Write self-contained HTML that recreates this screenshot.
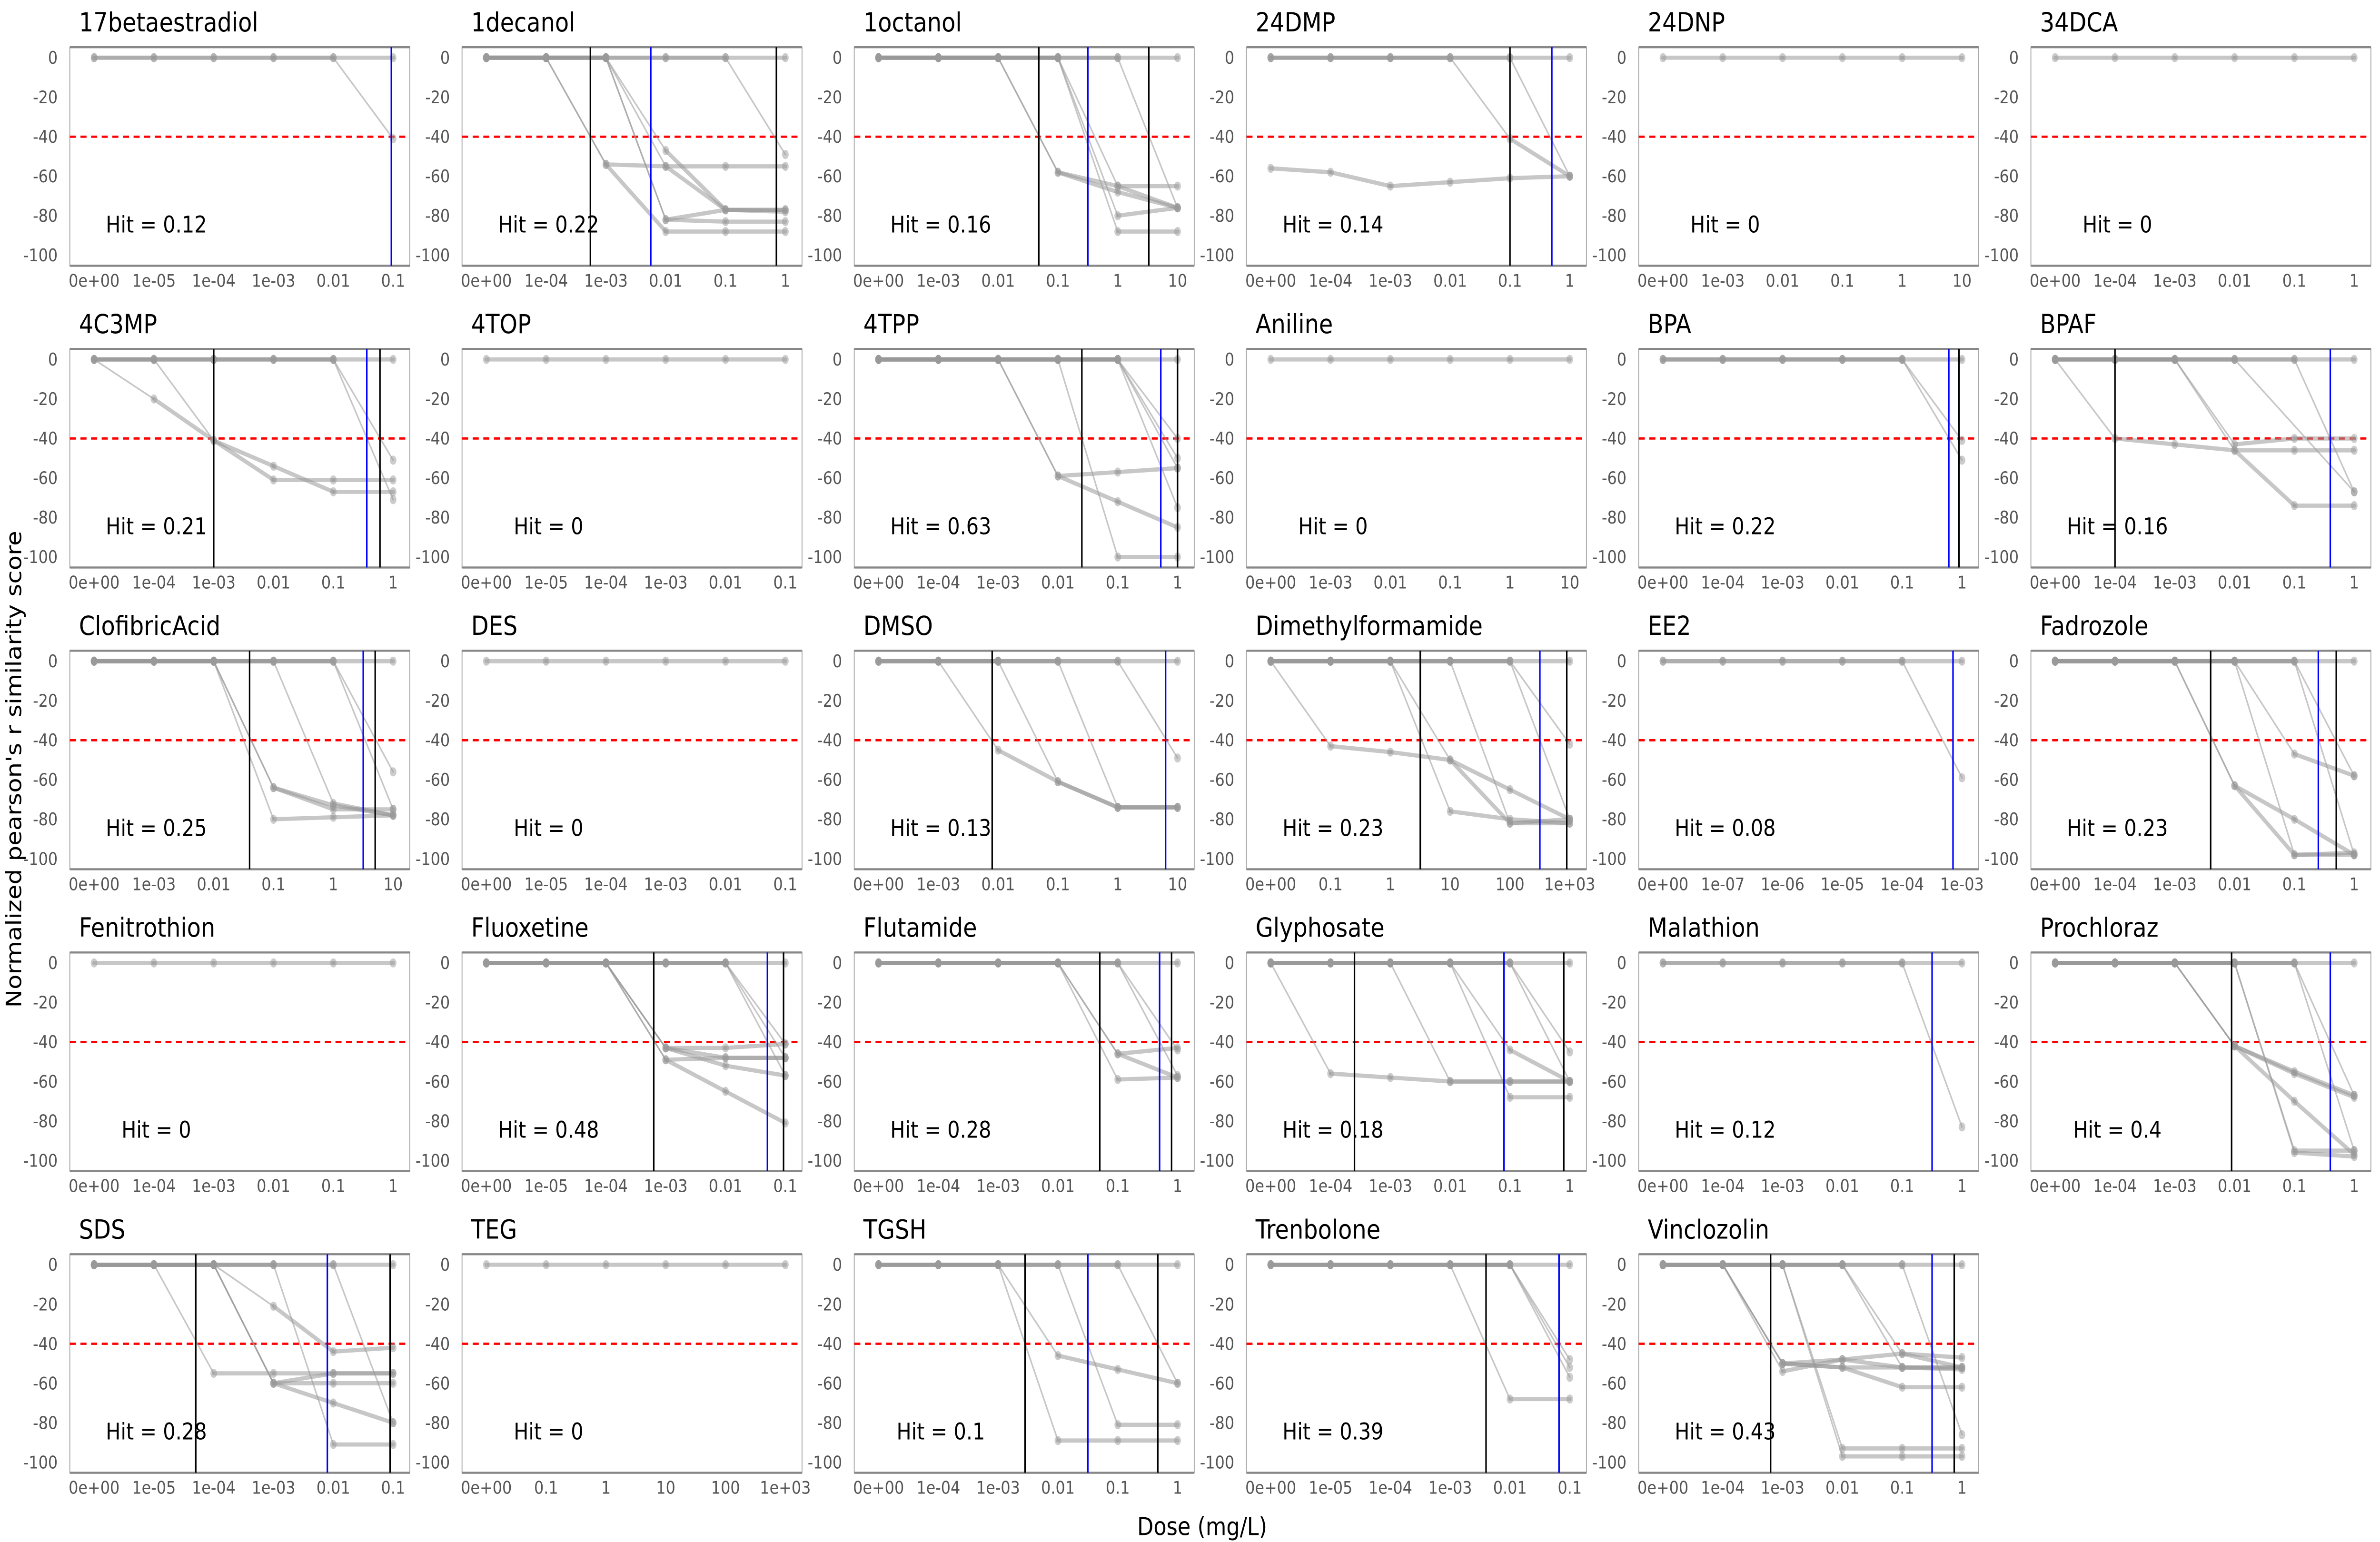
<!DOCTYPE html>
<html><head><meta charset="utf-8"><style>
html,body{margin:0;padding:0;background:#fff;overflow:hidden;width:100vw;height:100vh;}
svg{display:block;position:absolute;left:0;top:0;width:100vw;height:100vh;font-family:"DejaVu Sans","Liberation Sans",sans-serif;}
</style></head><body>
<svg id="fig" xmlns="http://www.w3.org/2000/svg" viewBox="0 0 1568 882" preserveAspectRatio="none">
<rect x="0" y="0" width="1568" height="882" fill="#fff"/>
<text x="0" y="0" transform="translate(14,440) rotate(-90)" text-anchor="middle" font-size="14" fill="#000">Normalized pearson's r similarity score</text>
<text x="792" y="878" text-anchor="middle" font-size="14" fill="#000">Dose (mg/L)</text>
<g id="panels"></g>
</svg>
<script>
const names = ["17betaestradiol","1decanol","1octanol","24DMP","24DNP","34DCA","4C3MP","4TOP","4TPP","Aniline","BPA","BPAF","ClofibricAcid","DES","DMSO","Dimethylformamide","EE2","Fadrozole","Fenitrothion","Fluoxetine","Flutamide","Glyphosate","Malathion","Prochloraz","SDS","TEG","TGSH","Trenbolone","Vinclozolin"];
const hits = ["0.12","0.22","0.16","0.14","0","0","0.21","0","0.63","0","0.22","0.16","0.25","0","0.13","0.23","0.08","0.23","0","0.48","0.28","0.18","0.12","0.4","0.28","0","0.1","0.39","0.43"];
const tickA = ["0e+00","1e-04","1e-03","0.01","0.1","1"];
const tickB = ["0e+00","1e-05","1e-04","1e-03","0.01","0.1"];
const tickC = ["0e+00","1e-03","0.01","0.1","1","10"];
const tickD = ["0e+00","0.1","1","10","100","1e+03"];
const tickE = ["0e+00","1e-07","1e-06","1e-05","1e-04","1e-03"];
const tickSets = [tickB,tickA,tickC,tickA,tickC,tickA,tickA,tickB,tickA,tickC,tickA,tickA,tickC,tickB,tickC,tickD,tickE,tickA,tickA,tickB,tickA,tickA,tickA,tickA,tickB,tickD,tickA,tickB,tickA];
const yTicks = [0,-20,-40,-60,-80,-100];
const threshold = -40;
const blackLines = [[],[1.74,4.85],[2.68,4.52],[4.0],[],[],[2.0,4.78],[],[3.4,5.0],[],[4.95],[1.0],[2.6,4.7],[],[1.9],[2.5,4.95],[],[2.6,4.7],[],[2.8,4.97],[3.7,4.9],[1.4,4.9],[],[2.95],[1.7,4.95],[],[2.45,4.67],[3.6,4.82],[1.8,4.87]];
const blueLines = [[4.97],[2.75],[3.5],[4.7],[],[],[4.56],[],[4.72],[],[4.78],[4.6],[4.5],[],[4.8],[4.5],[4.85],[4.4],[],[4.7],[4.7],[3.9],[4.5],[4.6],[3.9],[],[3.5],[4.82],[4.5]];
const B = [0,0,0,0,0,0];
const seriesData = [
 [B,[0,0,0,0,0,-41]],
 [B,[0,0,-54,-55,-55,-55],[0,0,-54,-88,-88,-88],[0,0,0,-47,-77,-77],[0,0,0,-82,-77,-78],[0,0,0,-82,-83,-83],[0,0,0,-55,-77,-77],[0,0,0,0,0,-49]],
 [B,[0,0,0,-58,-65,-65],[0,0,0,-58,-68,-76],[0,0,0,0,-80,-76],[0,0,0,0,-88,-88],[0,0,0,0,-65,-76],[0,0,0,0,0,-76]],
 [B,[0,0,0,0,-41,-60],[0,0,0,0,0,-60],[-56,-58,-65,-63,-61,-60]],
 [B],
 [B],
 [B,[0,-20,-41,-54,-67,-67],[0,0,-41,-61,-61,-61],[0,0,0,0,0,-51],[0,0,0,0,0,-71]],
 [B],
 [B,[0,0,0,-59,-57,-55],[0,0,0,-59,-72,-85],[0,0,0,0,-100,-100],[0,0,0,0,0,-40],[0,0,0,0,0,-50],[0,0,0,0,0,-55],[0,0,0,0,0,-75]],
 [B],
 [B,[0,0,0,0,0,-41],[0,0,0,0,0,-51]],
 [B,[0,-40,-43,-46,-46,-46],[0,0,0,-43,-40,-40],[0,0,0,-46,-74,-74],[0,0,0,0,null,-67],[0,0,0,0,0,-67]],
 [B,[0,0,0,-64,-73,-78],[0,0,0,-64,-75,-75],[0,0,0,-80,-79,-78],[0,0,0,0,-72,-78],[0,0,0,0,0,-56],[0,0,0,0,0,-75]],
 [B],
 [B,[0,0,-45,-61,-74,-74],[0,0,0,-61,-74,-74],[0,0,0,0,-74,-74],[0,0,0,0,0,-49]],
 [B,[0,-43,-46,-50,-65,-80],[0,0,0,-50,-82,-82],[0,0,0,-76,-80,-82],[0,0,0,0,-82,-80],[0,0,0,0,0,-42],[0,0,0,0,0,-80]],
 [B,[0,0,0,0,0,-59]],
 [B,[0,0,0,-63,-80,-98],[0,0,0,0,-47,-58],[0,0,0,0,-98,-98],[0,0,0,-63,-98,-97],[0,0,0,0,0,-58],[0,0,0,0,0,-98]],
 [B],
 [B,[0,0,0,-43,-43,-41],[0,0,0,-49,-48,-48],[0,0,0,-43,-48,-48],[0,0,0,-49,-65,-81],[0,0,0,-43,-52,-57],[0,0,0,0,0,-41],[0,0,0,0,0,-57],[0,0,0,0,0,-48]],
 [B,[0,0,0,0,-46,-43],[0,0,0,0,-59,-58],[0,0,0,0,-46,-58],[0,0,0,0,0,-57],[0,0,0,0,0,-44]],
 [B,[0,-56,-58,-60,-60,-60],[0,0,0,-60,-60,-60],[0,0,0,0,-68,-68],[0,0,0,0,-44,-60],[0,0,0,0,0,-45],[0,0,0,0,0,-60]],
 [B,[0,0,0,0,0,-83]],
 [B,[0,0,0,-42,-55,-67],[0,0,0,-42,-56,-68],[0,0,0,-42,-70,-97],[0,0,0,0,-95,-95],[0,0,0,0,-96,-98],[0,0,0,0,0,-67],[0,0,0,0,0,-95]],
 [B,[0,0,-55,-55,-55,-55],[0,0,0,-60,-55,-55],[0,0,0,-60,-60,-60],[0,0,0,-60,-70,-80],[0,0,0,-21,-44,-42],[0,0,0,0,-91,-91],[0,0,0,0,0,-80]],
 [B],
 [B,[0,0,0,-46,-53,-60],[0,0,0,-89,-89,-89],[0,0,0,0,-81,-81],[0,0,0,0,0,-60]],
 [B,[0,0,0,0,-68,-68],[0,0,0,0,0,-48],[0,0,0,0,0,-52],[0,0,0,0,0,-57]],
 [B,[0,0,-50,-48,-45,-47],[0,0,-54,-48,-52,-52],[0,0,-50,-52,-52,-52],[0,0,-50,-52,-62,-62],[0,0,0,-93,-93,-93],[0,0,0,-97,-97,-97],[0,0,0,0,-45,-52],[0,0,0,0,-52,-53],[0,0,0,0,0,-86]]
];

const NS = "http://www.w3.org/2000/svg";
const root = document.getElementById("panels");
function mk(tag, attrs, parent){ const e=document.createElementNS(NS,tag); for(const k in attrs) e.setAttribute(k,attrs[k]); parent.appendChild(e); return e; }
const colL=46, colStep=258.4, rowT=27, rowStep=172.6, PW=224, PH=125;

names.forEach((nm,i)=>{
  const c=i%6, r=Math.floor(i/6);
  const L=colL+c*colStep, T=rowT+r*rowStep;
  const xS = v => L+16+v*39.4;
  const yS = v => T+6+(-v)*1.13;
  const g = mk("g",{},root);
  
  
  const title = mk("text",{x:L+6,y:T-9,"font-size":15,fill:"#000"},g);
  title.textContent = nm;
  
  
  yTicks.forEach(t=>{
    const tl = mk("text",{x:L-8,y:yS(t)+3.5,"font-size":10,fill:"#555","text-anchor":"end"},g);
    tl.textContent = String(t);
    
    
  });
  tickSets[i].forEach((t,k)=>{
    const tl = mk("text",{x:xS(k),y:T+PH+12,"font-size":10,fill:"#555","text-anchor":"middle"},g);
    tl.textContent = t;
    
    
  });
  const fr = mk("rect",{x:L,y:T,width:PW,height:PH,fill:"none",stroke:"#aaa","stroke-width":0.6},g);
  
  
  mk("line",{x1:L,x2:L+PW,y1:T,y2:T,stroke:"#888","stroke-width":1.2},g);
  mk("line",{x1:L,x2:L+PW,y1:T+PH,y2:T+PH,stroke:"#888","stroke-width":1.2},g);
  const th = mk("line",{x1:L,x2:L+PW,y1:yS(threshold),y2:yS(threshold),stroke:"#f00","stroke-width":1.3,"stroke-dasharray":"4 3"},g);
  
  
  seriesData[i].forEach(s=>{
    let prev=null;
    s.forEach((v,k)=>{
      if(v===null) return;
      if(prev){
        const thin = (prev[1]===0 && v!==0) || (prev[1]!==0 && v===0);
        const seg = mk("line",{x1:xS(prev[0]),y1:yS(prev[1]),x2:xS(k),y2:yS(v),stroke:"#999","stroke-opacity":0.55,"stroke-width":thin?1:2.4,"stroke-linecap":"round"},g);
        
        
      }
      prev=[k,v];
    });
    s.forEach((v,k)=>{
      if(v===null) return;
      const pt = mk("ellipse",{cx:xS(k),cy:yS(v),rx:2.2,ry:2.6,fill:"#999","fill-opacity":0.5},g);
      
      
    });
  });
  blackLines[i].forEach(v=>{
    const vl = mk("line",{x1:xS(v),x2:xS(v),y1:T,y2:T+PH,stroke:"#000","stroke-width":1},g);
    
    
  });
  blueLines[i].forEach(v=>{
    const vl = mk("line",{x1:xS(v),x2:xS(v),y1:T,y2:T+PH,stroke:"#0000ff","stroke-width":1},g);
    
    
  });
  const ht = mk("text",{x:L+57,y:T+106,"font-size":13,fill:"#000","text-anchor":"middle"},g);
  ht.textContent = "Hit = "+hits[i];
  
  
});
</script>
</body></html>
